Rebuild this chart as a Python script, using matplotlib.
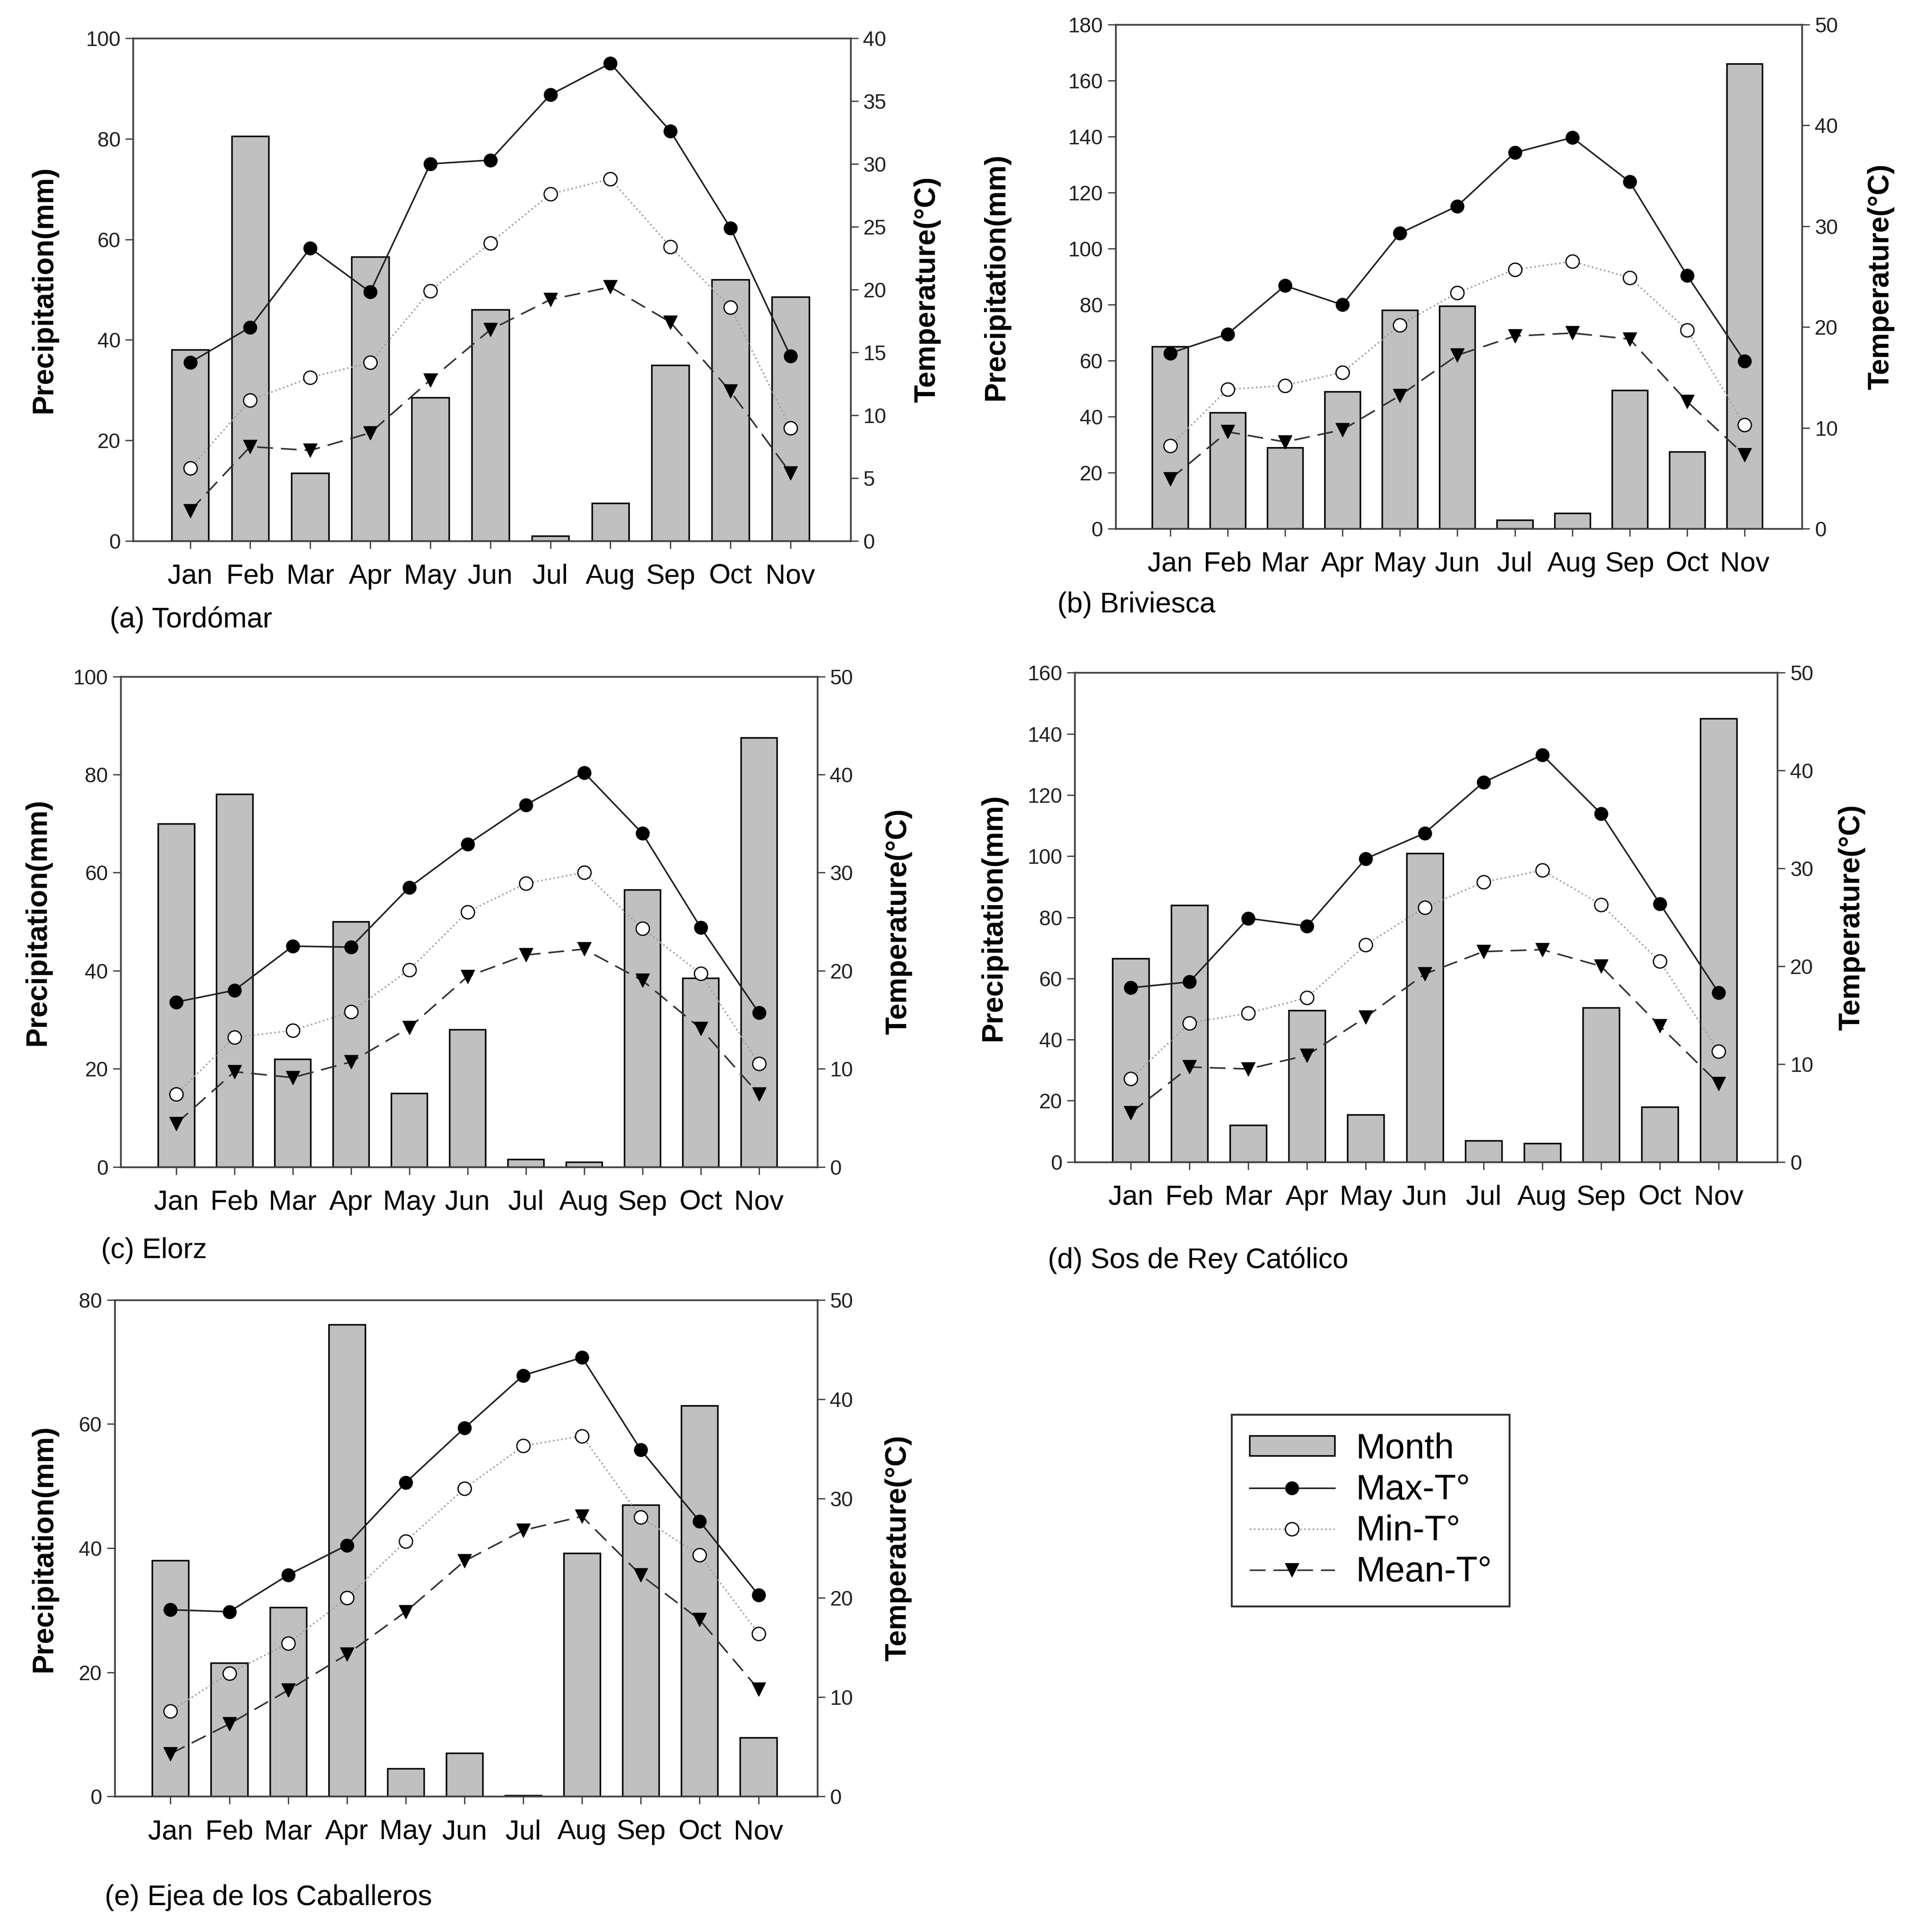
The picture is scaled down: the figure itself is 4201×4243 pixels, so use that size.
import numpy as np
import matplotlib
matplotlib.use("Agg")
import matplotlib.pyplot as plt
from matplotlib.lines import Line2D
from matplotlib.patches import Patch

plt.rcParams['font.family'] = ['Liberation Sans', 'DejaVu Sans']

months = ["Jan", "Feb", "Mar", "Apr", "May", "Jun", "Jul", "Aug", "Sep", "Oct", "Nov"]

# (a) Tordómar
precip_a = [38, 80.5, 13.5, 56.5, 28.5, 46, 1, 7.5, 35, 52, 48.5]
tmax_a = [14.2, 17.0, 23.3, 19.8, 30.0, 30.3, 35.5, 38.0, 32.6, 24.9, 14.7]
tmin_a = [5.8, 11.2, 13.0, 14.2, 19.9, 23.7, 27.6, 28.8, 23.4, 18.6, 9.0]
tmean_a = [2.4, 7.5, 7.2, 8.6, 12.8, 16.8, 19.2, 20.2, 17.4, 11.9, 5.4]

# (b) Briviesca
precip_b = [65, 41.5, 29, 49, 78, 79.5, 3, 5.5, 49.5, 27.5, 166]
tmax_b = [17.4, 19.3, 24.1, 22.2, 29.3, 32.0, 37.3, 38.8, 34.4, 25.1, 16.6]
tmin_b = [8.2, 13.8, 14.2, 15.5, 20.2, 23.4, 25.7, 26.5, 24.9, 19.7, 10.3]
tmean_b = [4.9, 9.6, 8.6, 9.8, 13.2, 17.2, 19.1, 19.4, 18.8, 12.6, 7.3]

# (c) Elorz
precip_c = [70, 76, 22, 50, 15, 28, 1.5, 1, 56.5, 38.5, 87.5]
tmax_c = [16.8, 18.0, 22.5, 22.4, 28.5, 32.9, 36.9, 40.2, 34.0, 24.4, 15.7]
tmin_c = [7.4, 13.2, 13.9, 15.8, 20.1, 26.0, 28.9, 30.0, 24.3, 19.7, 10.5]
tmean_c = [4.4, 9.7, 9.1, 10.7, 14.2, 19.4, 21.6, 22.2, 19.0, 14.1, 7.4]

# (d) Sos de Rey Católico
precip_d = [66.5, 84, 12, 49.5, 15.5, 101, 7, 6, 50.5, 18, 145]
tmax_d = [17.8, 18.4, 24.9, 24.1, 31.0, 33.6, 38.8, 41.6, 35.6, 26.4, 17.3]
tmin_d = [8.5, 14.2, 15.2, 16.8, 22.2, 26.0, 28.6, 29.8, 26.3, 20.5, 11.3]
tmean_d = [5.0, 9.7, 9.5, 10.9, 14.8, 19.2, 21.5, 21.7, 20.0, 13.9, 8.0]

# (e) Ejea de los Caballeros
precip_e = [38, 21.5, 30.5, 76, 4.5, 7, 0.2, 39.2, 47, 63, 9.5]
tmax_e = [18.8, 18.6, 22.3, 25.3, 31.6, 37.1, 42.4, 44.2, 34.9, 27.7, 20.3]
tmin_e = [8.6, 12.4, 15.4, 20.0, 25.7, 31.0, 35.3, 36.3, 28.1, 24.3, 16.4]
tmean_e = [4.3, 7.3, 10.7, 14.3, 18.6, 23.7, 26.8, 28.2, 22.3, 17.8, 10.8]

spine_col = '#404040'
bar_col = '#c0c0c0'
dash = (0, (10, 5))

fig = plt.figure(figsize=(42.01, 42.43), dpi=100)


def panel(rect, precip, tmax, tmin, tmean, pmax, tmaxlim, title, title_xy, lab_l, lab_r):
    ax = fig.add_axes(rect)
    ax2 = ax.twinx()
    x = np.arange(len(months))
    ax.bar(x, precip, width=0.62, color=bar_col, edgecolor='black', linewidth=2.5, zorder=2)
    ax.set_xlim(-0.95, len(months))
    ax.set_ylim(0, pmax)
    ax.set_yticks(np.arange(0, pmax + 1, 20))
    ax.set_xticks(x)
    ax.set_xticklabels(months)

    ax2.plot(x, tmin, linestyle=':', color='#a0a0a0', linewidth=2.5,
             marker='o', markersize=21, markerfacecolor='white',
             markeredgecolor='black', markeredgewidth=2)
    ax2.plot(x, tmean, linestyle=dash, color='#303030', linewidth=2.5,
             marker='v', markersize=22, markerfacecolor='black', markeredgecolor='black')
    ax2.plot(x, tmax, linestyle='-', color='#202020', linewidth=2.5,
             marker='o', markersize=21, markerfacecolor='black', markeredgecolor='black')
    ax2.set_ylim(0, tmaxlim)
    ax2.set_yticks(np.arange(0, tmaxlim + 1, 5 if tmaxlim == 40 else 10))

    for a in (ax, ax2):
        for s in a.spines.values():
            s.set_color(spine_col)
            s.set_linewidth(2.5)
        a.tick_params(axis='y', direction='out', length=12, width=2, labelsize=33,
                      pad=8, colors=spine_col, labelcolor='#202020')
    ax.tick_params(axis='x', direction='out', length=12, width=2, labelsize=44,
                   pad=24, colors=spine_col, labelcolor='black')

    ax.set_ylabel('Precipitation(mm)', fontsize=46, fontweight='bold')
    ax2.set_ylabel('Temperature(°C)', fontsize=46, fontweight='bold')
    ax.yaxis.set_label_coords(lab_l, 0.5)
    ax2.yaxis.set_label_coords(lab_r, 0.5)

    fig.text(title_xy[0], title_xy[1], title, fontsize=45, va='center', ha='left')
    return ax


W, H = 1552.0, 1568.0


def rect(l, r, t, b):
    return [l / W, 1 - b / H, (r - l) / W, (b - t) / H]


panel(rect(108, 690, 31, 439), precip_a, tmax_a, tmin_a, tmean_a, 100, 40,
      '(a) Tordómar', (89 / W, 1 - 503 / H), -0.105, 1.088)
panel(rect(905, 1462, 20, 429), precip_b, tmax_b, tmin_b, tmean_b, 180, 50,
      '(b) Briviesca', (858 / W, 1 - 491 / H), -0.154, 1.095)
panel(rect(98, 663, 549, 947), precip_c, tmax_c, tmin_c, tmean_c, 100, 50,
      '(c) Elorz', (82 / W, 1 - 1015 / H), -0.1, 1.097)
panel(rect(872, 1442, 546, 943), precip_d, tmax_d, tmin_d, tmean_d, 160, 50,
      '(d) Sos de Rey Católico', (850 / W, 1 - 1023 / H), -0.096, 1.086)
panel(rect(93, 663, 1055, 1458), precip_e, tmax_e, tmin_e, tmean_e, 80, 50,
      '(e) Ejea de los Caballeros', (85 / W, 1 - 1540 / H), -0.081, 1.096)

handles = [
    Patch(facecolor=bar_col, edgecolor='black', linewidth=2.5),
    Line2D([], [], color='#202020', linewidth=2.5, marker='o', markersize=21,
           markerfacecolor='black'),
    Line2D([], [], color='#a0a0a0', linestyle=':', linewidth=2.5, marker='o', markersize=21,
           markerfacecolor='white', markeredgecolor='black', markeredgewidth=2),
    Line2D([], [], color='#303030', linestyle=dash, linewidth=2.5, marker='v',
           markersize=22, markerfacecolor='black', markeredgecolor='black'),
]
labels = ['Month', 'Max-T°', 'Min-T°', 'Mean-T°']
leg = fig.legend(handles, labels, loc='center', bbox_to_anchor=(1112 / W, 1 - 1226 / H),
                 fontsize=56, frameon=True, fancybox=False, framealpha=1,
                 edgecolor='#303030', handlelength=2.4, handleheight=0.5,
                 handletextpad=0.6, labelspacing=0.22, borderpad=0.5)
leg.get_frame().set_linewidth(3)

fig.savefig('out.png', dpi=100)
